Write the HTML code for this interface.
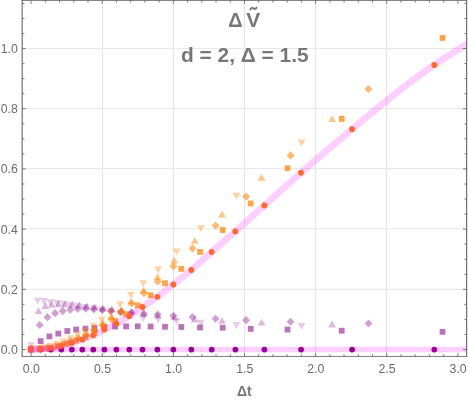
<!DOCTYPE html>
<html><head><meta charset="utf-8"><title>Plot</title>
<style>html,body{margin:0;padding:0;background:#fff;}body{width:468px;height:401px;position:relative;overflow:hidden;font-family:"Liberation Sans",sans-serif;}</style>
</head><body>
<svg width="468" height="401" viewBox="0 0 468 401" style="position:absolute;left:0;top:0">
<rect width="468" height="401" fill="#fff"/>
<defs><clipPath id="c"><rect x="22.2" y="0.45" width="444.40000000000003" height="356.0"/></clipPath></defs>
<g stroke-width="1"><line x1="102.50" y1="0.45" x2="102.50" y2="356.45" stroke="#e3e3e3"/><line x1="173.50" y1="0.45" x2="173.50" y2="356.45" stroke="#e3e3e3"/><line x1="244.50" y1="0.45" x2="244.50" y2="356.45" stroke="#e3e3e3"/><line x1="315.60" y1="0.45" x2="315.60" y2="356.45" stroke="#e3e3e3"/><line x1="386.45" y1="0.45" x2="386.45" y2="356.45" stroke="#e3e3e3"/><line x1="22.2" y1="48.45" x2="466.6" y2="48.45" stroke="#e7e7e7"/><line x1="22.2" y1="108.50" x2="466.6" y2="108.50" stroke="#e7e7e7"/><line x1="22.2" y1="168.45" x2="466.6" y2="168.45" stroke="#e7e7e7"/><line x1="22.2" y1="228.75" x2="466.6" y2="228.75" stroke="#e7e7e7"/><line x1="22.2" y1="289.35" x2="466.6" y2="289.35" stroke="#e7e7e7"/></g>
<g clip-path="url(#c)">
<g fill="#800080" fill-opacity="0.2"><path d="M31.00 349.30L34.90 342.30L27.10 342.30Z"/><path d="M37.60 304.50L41.50 297.50L33.70 297.50Z"/><path d="M44.00 305.10L47.90 298.10L40.10 298.10Z"/><path d="M50.40 306.30L54.30 299.30L46.50 299.30Z"/><path d="M56.90 307.00L60.80 300.00L53.00 300.00Z"/><path d="M63.50 307.80L67.40 300.80L59.60 300.80Z"/><path d="M70.30 308.80L74.20 301.80L66.40 301.80Z"/><path d="M77.40 309.80L81.30 302.80L73.50 302.80Z"/><path d="M85.00 311.00L88.90 304.00L81.10 304.00Z"/><path d="M93.50 312.30L97.40 305.30L89.60 305.30Z"/><path d="M101.70 313.80L105.60 306.80L97.80 306.80Z"/><path d="M110.60 315.30L114.50 308.30L106.70 308.30Z"/><path d="M120.00 317.00L123.90 310.00L116.10 310.00Z"/><path d="M130.80 318.70L134.70 311.70L126.90 311.70Z"/><path d="M143.20 322.10L147.10 315.10L139.30 315.10Z"/><path d="M158.10 323.50L162.00 316.50L154.20 316.50Z"/><path d="M176.50 324.90L180.40 317.90L172.60 317.90Z"/><path d="M200.90 326.80L204.80 319.80L197.00 319.80Z"/><path d="M236.40 329.00L240.30 322.00L232.50 322.00Z"/><path d="M301.50 330.00L305.40 323.00L297.60 323.00Z"/></g>

<g fill="#800080" fill-opacity="0.275"><path d="M31.00 345.80L34.90 352.60L27.10 352.60Z"/><path d="M38.50 307.20L42.40 314.00L34.60 314.00Z"/><path d="M45.30 302.10L49.20 308.90L41.40 308.90Z"/><path d="M51.70 301.00L55.60 307.80L47.80 307.80Z"/><path d="M58.50 300.50L62.40 307.30L54.60 307.30Z"/><path d="M65.20 300.50L69.10 307.30L61.30 307.30Z"/><path d="M72.20 301.00L76.10 307.80L68.30 307.80Z"/><path d="M79.30 301.60L83.20 308.40L75.40 308.40Z"/><path d="M86.90 302.40L90.80 309.20L83.00 309.20Z"/><path d="M94.80 303.40L98.70 310.20L90.90 310.20Z"/><path d="M103.20 304.60L107.10 311.40L99.30 311.40Z"/><path d="M112.00 305.80L115.90 312.60L108.10 312.60Z"/><path d="M121.50 307.20L125.40 314.00L117.60 314.00Z"/><path d="M131.00 308.10L134.90 314.90L127.10 314.90Z"/><path d="M143.40 309.60L147.30 316.40L139.50 316.40Z"/><path d="M157.60 311.40L161.50 318.20L153.70 318.20Z"/><path d="M174.25 313.40L178.15 320.20L170.35 320.20Z"/><path d="M194.75 315.60L198.65 322.40L190.85 322.40Z"/><path d="M222.00 316.90L225.90 323.70L218.10 323.70Z"/><path d="M261.60 318.80L265.50 325.60L257.70 325.60Z"/><path d="M332.00 320.60L335.90 327.40L328.10 327.40Z"/></g>

<g fill="#800080" fill-opacity="0.37"><path d="M31.00 345.10L35.00 349.20L31.00 353.30L27.00 349.20Z"/><path d="M39.70 320.90L43.70 325.00L39.70 329.10L35.70 325.00Z"/><path d="M47.50 313.10L51.50 317.20L47.50 321.30L43.50 317.20Z"/><path d="M55.10 309.10L59.10 313.20L55.10 317.30L51.10 313.20Z"/><path d="M62.70 307.00L66.70 311.10L62.70 315.20L58.70 311.10Z"/><path d="M70.20 305.70L74.20 309.80L70.20 313.90L66.20 309.80Z"/><path d="M77.60 304.90L81.60 309.00L77.60 313.10L73.60 309.00Z"/><path d="M85.60 304.60L89.60 308.70L85.60 312.80L81.60 308.70Z"/><path d="M93.80 305.20L97.80 309.30L93.80 313.40L89.80 309.30Z"/><path d="M102.30 305.90L106.30 310.00L102.30 314.10L98.30 310.00Z"/><path d="M111.00 306.80L115.00 310.90L111.00 315.00L107.00 310.90Z"/><path d="M121.00 307.80L125.00 311.90L121.00 316.00L117.00 311.90Z"/><path d="M131.70 308.60L135.70 312.70L131.70 316.80L127.70 312.70Z"/><path d="M144.00 309.65L148.00 313.75L144.00 317.85L140.00 313.75Z"/><path d="M157.70 310.40L161.70 314.50L157.70 318.60L153.70 314.50Z"/><path d="M173.40 311.65L177.40 315.75L173.40 319.85L169.40 315.75Z"/><path d="M192.50 312.90L196.50 317.00L192.50 321.10L188.50 317.00Z"/><path d="M215.50 314.65L219.50 318.75L215.50 322.85L211.50 318.75Z"/><path d="M246.10 316.10L250.10 320.20L246.10 324.30L242.10 320.20Z"/><path d="M290.50 317.65L294.50 321.75L290.50 325.85L286.50 321.75Z"/><path d="M368.50 319.40L372.50 323.50L368.50 327.60L364.50 323.50Z"/></g>

<g fill="#800080" fill-opacity="0.55"><rect x="28.10" y="346.30" width="5.8" height="5.8"/><rect x="37.70" y="338.20" width="5.8" height="5.8"/><rect x="46.50" y="333.50" width="5.8" height="5.8"/><rect x="55.40" y="330.70" width="5.8" height="5.8"/><rect x="64.40" y="328.10" width="5.8" height="5.8"/><rect x="73.20" y="326.60" width="5.8" height="5.8"/><rect x="82.60" y="325.70" width="5.8" height="5.8"/><rect x="91.50" y="325.10" width="5.8" height="5.8"/><rect x="101.30" y="324.00" width="5.8" height="5.8"/><rect x="112.20" y="323.60" width="5.8" height="5.8"/><rect x="123.20" y="323.50" width="5.8" height="5.8"/><rect x="134.80" y="323.40" width="5.8" height="5.8"/><rect x="147.70" y="323.60" width="5.8" height="5.8"/><rect x="162.10" y="323.85" width="5.8" height="5.8"/><rect x="178.40" y="324.10" width="5.8" height="5.8"/><rect x="197.10" y="324.60" width="5.8" height="5.8"/><rect x="219.80" y="324.85" width="5.8" height="5.8"/><rect x="247.80" y="326.00" width="5.8" height="5.8"/><rect x="284.60" y="326.70" width="5.8" height="5.8"/><rect x="338.80" y="327.80" width="5.8" height="5.8"/><rect x="439.60" y="328.90" width="5.8" height="5.8"/></g>

<g fill="#800080" fill-opacity="1"><circle cx="31.00" cy="349.60" r="2.9"/><circle cx="40.60" cy="349.60" r="2.9"/><circle cx="50.85" cy="349.60" r="2.9"/><circle cx="61.35" cy="349.60" r="2.9"/><circle cx="71.85" cy="349.60" r="2.9"/><circle cx="82.35" cy="349.60" r="2.9"/><circle cx="93.30" cy="349.60" r="2.9"/><circle cx="104.40" cy="349.60" r="2.9"/><circle cx="116.40" cy="349.60" r="2.9"/><circle cx="129.30" cy="349.60" r="2.9"/><circle cx="142.50" cy="349.60" r="2.9"/><circle cx="157.40" cy="349.60" r="2.9"/><circle cx="173.40" cy="349.60" r="2.9"/><circle cx="191.35" cy="349.60" r="2.9"/><circle cx="211.70" cy="349.60" r="2.9"/><circle cx="235.40" cy="349.60" r="2.9"/><circle cx="264.40" cy="349.60" r="2.9"/><circle cx="301.10" cy="349.60" r="2.9"/><circle cx="352.10" cy="349.60" r="2.9"/><circle cx="434.30" cy="349.60" r="2.9"/></g>

<g fill="#FF8000" fill-opacity="0.35"><path d="M31.00 352.70L34.90 345.70L27.10 345.70Z"/><path d="M37.60 352.15L41.50 345.15L33.70 345.15Z"/><path d="M44.00 351.15L47.90 344.15L40.10 344.15Z"/><path d="M50.40 349.75L54.30 342.75L46.50 342.75Z"/><path d="M56.90 347.77L60.80 340.77L53.00 340.77Z"/><path d="M63.50 345.22L67.40 338.22L59.60 338.22Z"/><path d="M70.30 342.14L74.20 335.14L66.40 335.14Z"/><path d="M77.40 338.67L81.30 331.67L73.50 331.67Z"/><path d="M85.00 334.74L88.90 327.74L81.10 327.74Z"/><path d="M93.50 329.86L97.40 322.86L89.60 322.86Z"/><path d="M101.70 323.75L105.60 316.75L97.80 316.75Z"/><path d="M110.60 316.76L114.50 309.76L106.70 309.76Z"/><path d="M120.00 308.24L123.90 301.24L116.10 301.24Z"/><path d="M130.80 298.63L134.70 291.63L126.90 291.63Z"/><path d="M143.20 287.30L147.10 280.30L139.30 280.30Z"/><path d="M158.10 273.32L162.00 266.32L154.20 266.32Z"/><path d="M176.50 255.57L180.40 248.57L172.60 248.57Z"/><path d="M200.90 232.22L204.80 225.22L197.00 225.22Z"/><path d="M236.40 199.64L240.30 192.64L232.50 192.64Z"/><path d="M301.50 146.61L305.40 139.61L297.60 139.61Z"/></g>

<g fill="#FF8000" fill-opacity="0.45"><path d="M31.00 345.80L34.90 352.60L27.10 352.60Z"/><path d="M38.50 345.51L42.40 352.31L34.60 352.31Z"/><path d="M45.30 344.93L49.20 351.73L41.40 351.73Z"/><path d="M51.70 343.86L55.60 350.66L47.80 350.66Z"/><path d="M58.50 342.24L62.40 349.04L54.60 349.04Z"/><path d="M65.20 340.05L69.10 346.85L61.30 346.85Z"/><path d="M72.20 337.26L76.10 344.06L68.30 344.06Z"/><path d="M79.30 334.17L83.20 340.97L75.40 340.97Z"/><path d="M86.90 330.44L90.80 337.24L83.00 337.24Z"/><path d="M94.80 325.73L98.70 332.53L90.90 332.53Z"/><path d="M103.20 319.77L107.10 326.57L99.30 326.57Z"/><path d="M112.00 313.53L115.90 320.33L108.10 320.33Z"/><path d="M121.50 306.30L125.40 313.10L117.60 313.10Z"/><path d="M131.00 297.70L134.90 304.50L127.10 304.50Z"/><path d="M143.40 286.81L147.30 293.61L139.50 293.61Z"/><path d="M157.60 273.08L161.50 279.88L153.70 279.88Z"/><path d="M174.25 256.65L178.15 263.45L170.35 263.45Z"/><path d="M194.75 236.89L198.65 243.69L190.85 243.69Z"/><path d="M222.00 210.81L225.90 217.61L218.10 217.61Z"/><path d="M261.60 173.84L265.50 180.64L257.70 180.64Z"/><path d="M332.00 115.19L335.90 121.99L328.10 121.99Z"/></g>

<g fill="#FF8000" fill-opacity="0.55"><path d="M31.00 345.10L35.00 349.20L31.00 353.30L27.00 349.20Z"/><path d="M39.70 344.75L43.70 348.85L39.70 352.95L35.70 348.85Z"/><path d="M47.50 343.91L51.50 348.01L47.50 352.11L43.50 348.01Z"/><path d="M55.10 342.41L59.10 346.51L55.10 350.61L51.10 346.51Z"/><path d="M62.70 340.23L66.70 344.33L62.70 348.43L58.70 344.33Z"/><path d="M70.20 337.37L74.20 341.47L70.20 345.57L66.20 341.47Z"/><path d="M77.60 334.31L81.60 338.41L77.60 342.51L73.60 338.41Z"/><path d="M85.60 330.73L89.60 334.83L85.60 338.93L81.60 334.83Z"/><path d="M93.80 326.02L97.80 330.12L93.80 334.22L89.80 330.12Z"/><path d="M102.30 320.84L106.30 324.94L102.30 329.04L98.30 324.94Z"/><path d="M111.00 314.77L115.00 318.87L111.00 322.97L107.00 318.87Z"/><path d="M121.00 307.48L125.00 311.58L121.00 315.68L117.00 311.58Z"/><path d="M131.70 299.42L135.70 303.52L131.70 307.62L127.70 303.52Z"/><path d="M144.00 288.95L148.00 293.05L144.00 297.15L140.00 293.05Z"/><path d="M157.70 277.41L161.70 281.51L157.70 285.61L153.70 281.51Z"/><path d="M173.40 262.07L177.40 266.17L173.40 270.27L169.40 266.17Z"/><path d="M192.50 244.24L196.50 248.34L192.50 252.44L188.50 248.34Z"/><path d="M215.50 221.47L219.50 225.57L215.50 229.67L211.50 225.57Z"/><path d="M246.10 192.46L250.10 196.56L246.10 200.66L242.10 196.56Z"/><path d="M290.50 151.31L294.50 155.41L290.50 159.51L286.50 155.41Z"/><path d="M368.50 84.89L372.50 88.99L368.50 93.09L364.50 88.99Z"/></g>

<g fill="#FF8000" fill-opacity="0.7"><rect x="28.10" y="346.30" width="5.8" height="5.8"/><rect x="37.70" y="345.89" width="5.8" height="5.8"/><rect x="46.50" y="344.98" width="5.8" height="5.8"/><rect x="55.40" y="343.28" width="5.8" height="5.8"/><rect x="64.40" y="340.64" width="5.8" height="5.8"/><rect x="73.20" y="337.67" width="5.8" height="5.8"/><rect x="82.60" y="334.16" width="5.8" height="5.8"/><rect x="91.50" y="329.93" width="5.8" height="5.8"/><rect x="101.30" y="324.25" width="5.8" height="5.8"/><rect x="112.20" y="318.21" width="5.8" height="5.8"/><rect x="123.20" y="311.28" width="5.8" height="5.8"/><rect x="134.80" y="302.41" width="5.8" height="5.8"/><rect x="147.70" y="292.34" width="5.8" height="5.8"/><rect x="162.10" y="280.28" width="5.8" height="5.8"/><rect x="178.40" y="265.96" width="5.8" height="5.8"/><rect x="197.10" y="248.97" width="5.8" height="5.8"/><rect x="219.80" y="227.11" width="5.8" height="5.8"/><rect x="247.80" y="200.55" width="5.8" height="5.8"/><rect x="284.60" y="165.28" width="5.8" height="5.8"/><rect x="338.80" y="116.00" width="5.8" height="5.8"/><rect x="439.60" y="35.06" width="5.8" height="5.8"/></g>

<g fill="#FF8000" fill-opacity="1"><circle cx="30.90" cy="349.20" r="2.9"/><circle cx="40.50" cy="348.90" r="2.9"/><circle cx="50.75" cy="347.90" r="2.9"/><circle cx="61.25" cy="345.90" r="2.9"/><circle cx="71.75" cy="342.90" r="2.9"/><circle cx="82.25" cy="339.60" r="2.9"/><circle cx="93.20" cy="335.30" r="2.9"/><circle cx="104.30" cy="329.60" r="2.9"/><circle cx="116.30" cy="323.70" r="2.9"/><circle cx="129.20" cy="316.20" r="2.9"/><circle cx="142.40" cy="307.00" r="2.9"/><circle cx="157.30" cy="296.80" r="2.9"/><circle cx="173.30" cy="284.50" r="2.9"/><circle cx="191.25" cy="270.00" r="2.9"/><circle cx="211.60" cy="252.00" r="2.9"/><circle cx="235.30" cy="231.40" r="2.9"/><circle cx="264.30" cy="205.50" r="2.9"/><circle cx="301.00" cy="172.75" r="2.9"/><circle cx="352.00" cy="129.25" r="2.9"/><circle cx="434.20" cy="65.00" r="2.9"/></g>

</g>
<g clip-path="url(#c)" fill="none" stroke="#FF00FF" stroke-opacity="0.19" stroke-linecap="square">
<line x1="31.0" y1="349.55" x2="470" y2="349.55" stroke-width="5.6"/>
<path d="M31.00 349.20L32.50 349.19L34.00 349.17L35.50 349.13L37.00 349.08L38.50 349.01L40.00 348.93L41.50 348.84L43.00 348.73L44.50 348.60L46.00 348.46L47.50 348.31L49.00 348.13L50.50 347.93L52.00 347.72L53.50 347.48L55.00 347.23L56.50 346.95L58.00 346.64L59.50 346.31L61.00 345.96L62.50 345.58L64.00 345.18L65.50 344.76L67.00 344.33L68.50 343.88L70.00 343.43L71.50 342.98L73.00 342.52L74.50 342.06L76.00 341.60L77.50 341.14L79.00 340.66L80.50 340.18L82.00 339.68L83.50 339.17L85.00 338.64L86.50 338.10L88.00 337.52L89.50 336.92L91.00 336.29L92.50 335.62L94.00 334.92L95.50 334.18L97.00 333.42L98.50 332.64L100.00 331.85L101.50 331.06L103.00 330.27L104.50 329.50L106.00 328.75L107.50 328.01L109.00 327.28L110.50 326.56L112.00 325.83L113.50 325.10L115.00 324.36L116.50 323.60L118.00 322.82L119.50 322.01L121.00 321.18L122.50 320.33L124.00 319.45L125.50 318.55L127.00 317.61L128.50 316.66L130.00 315.67L131.50 314.66L133.00 313.63L134.50 312.58L136.00 311.52L137.50 310.46L139.00 309.39L140.50 308.33L142.00 307.28L143.50 306.24L145.00 305.22L146.50 304.20L148.00 303.19L149.50 302.18L151.00 301.17L152.50 300.15L154.00 299.12L155.50 298.08L157.00 297.01L158.50 295.93L160.00 294.83L161.50 293.71L163.00 292.57L164.50 291.42L166.00 290.25L167.50 289.08L169.00 287.90L170.50 286.72L172.00 285.53L173.50 284.34L175.00 283.16L176.50 281.97L178.00 280.78L179.50 279.59L181.00 278.40L182.50 277.20L184.00 275.99L185.50 274.77L187.00 273.54L188.50 272.31L190.00 271.05L191.50 269.79L193.00 268.51L194.50 267.21L196.00 265.90L197.50 264.58L199.00 263.26L200.50 261.92L202.00 260.58L203.50 259.24L205.00 257.90L206.50 256.55L208.00 255.21L209.50 253.87L211.00 252.53L212.50 251.20L214.00 249.88L215.50 248.57L217.00 247.25L218.50 245.95L220.00 244.65L221.50 243.35L223.00 242.05L224.50 240.75L226.00 239.46L227.50 238.16L229.00 236.87L230.50 235.57L232.00 234.27L233.50 232.97L235.00 231.66L236.50 230.35L238.00 229.03L239.50 227.71L241.00 226.39L242.50 225.06L244.00 223.73L245.50 222.40L247.00 221.06L248.50 219.72L250.00 218.37L251.50 217.03L253.00 215.68L254.50 214.33L256.00 212.98L257.50 211.63L259.00 210.28L260.50 208.93L262.00 207.57L263.50 206.22L265.00 204.87L266.50 203.52L268.00 202.16L269.50 200.81L271.00 199.46L272.50 198.11L274.00 196.76L275.50 195.42L277.00 194.07L278.50 192.72L280.00 191.38L281.50 190.04L283.00 188.69L284.50 187.35L286.00 186.02L287.50 184.68L289.00 183.35L290.50 182.01L292.00 180.68L293.50 179.35L295.00 178.03L296.50 176.71L298.00 175.38L299.50 174.07L301.00 172.75L302.50 171.44L304.00 170.13L305.50 168.82L307.00 167.51L308.50 166.21L310.00 164.91L311.50 163.61L313.00 162.32L314.50 161.03L316.00 159.73L317.50 158.45L319.00 157.16L320.50 155.87L322.00 154.59L323.50 153.31L325.00 152.03L326.50 150.75L328.00 149.48L329.50 148.21L331.00 146.93L332.50 145.66L334.00 144.39L335.50 143.12L337.00 141.86L338.50 140.59L340.00 139.33L341.50 138.07L343.00 136.80L344.50 135.54L346.00 134.28L347.50 133.02L349.00 131.76L350.50 130.51L352.00 129.25L353.50 127.99L355.00 126.74L356.50 125.48L358.00 124.23L359.50 122.98L361.00 121.73L362.50 120.48L364.00 119.23L365.50 117.98L367.00 116.74L368.50 115.49L370.00 114.25L371.50 113.01L373.00 111.78L374.50 110.54L376.00 109.31L377.50 108.09L379.00 106.86L380.50 105.64L382.00 104.42L383.50 103.20L385.00 101.99L386.50 100.78L388.00 99.58L389.50 98.38L391.00 97.18L392.50 95.99L394.00 94.80L395.50 93.61L397.00 92.43L398.50 91.26L400.00 90.09L401.50 88.92L403.00 87.76L404.50 86.60L406.00 85.45L407.50 84.31L409.00 83.17L410.50 82.04L412.00 80.91L413.50 79.79L415.00 78.67L416.50 77.56L418.00 76.46L419.50 75.37L421.00 74.28L422.50 73.19L424.00 72.12L425.50 71.05L427.00 69.99L428.50 68.94L430.00 67.89L431.50 66.85L433.00 65.82L434.50 64.80L436.00 63.78L437.50 62.77L439.00 61.77L440.50 60.78L442.00 59.79L443.50 58.81L445.00 57.84L446.50 56.87L448.00 55.90L449.50 54.94L451.00 53.99L452.50 53.04L454.00 52.09L455.50 51.14L457.00 50.20L458.50 49.26L460.00 48.33L461.50 47.39L463.00 46.46L464.50 45.53L466.00 44.60L467.50 43.67L469.00 42.74L470.50 41.81L472.00 40.88L473.50 39.95L475.00 39.02" stroke-width="6.8" stroke-linejoin="round"/>
</g>
<g stroke="#6c6c6c"><line x1="22.2" y1="0" x2="22.2" y2="356.9" stroke-width="1.15"/><line x1="466.6" y1="0" x2="466.6" y2="356.9" stroke-width="1.15"/><line x1="21.65" y1="0.45" x2="467.15000000000003" y2="0.45" stroke-width="0.9"/><line x1="21.65" y1="356.45" x2="467.15000000000003" y2="356.45" stroke-width="0.9"/></g><g stroke="#545454" stroke-width="0.75"><line x1="31.10" y1="356.45" x2="31.10" y2="352.95"/><line x1="31.10" y1="0.45" x2="31.10" y2="3.95"/><line x1="45.33" y1="356.45" x2="45.33" y2="354.25"/><line x1="45.33" y1="0.45" x2="45.33" y2="2.6500000000000004"/><line x1="59.55" y1="356.45" x2="59.55" y2="354.25"/><line x1="59.55" y1="0.45" x2="59.55" y2="2.6500000000000004"/><line x1="73.78" y1="356.45" x2="73.78" y2="354.25"/><line x1="73.78" y1="0.45" x2="73.78" y2="2.6500000000000004"/><line x1="88.00" y1="356.45" x2="88.00" y2="354.25"/><line x1="88.00" y1="0.45" x2="88.00" y2="2.6500000000000004"/><line x1="102.22" y1="356.45" x2="102.22" y2="352.95"/><line x1="102.22" y1="0.45" x2="102.22" y2="3.95"/><line x1="116.45" y1="356.45" x2="116.45" y2="354.25"/><line x1="116.45" y1="0.45" x2="116.45" y2="2.6500000000000004"/><line x1="130.68" y1="356.45" x2="130.68" y2="354.25"/><line x1="130.68" y1="0.45" x2="130.68" y2="2.6500000000000004"/><line x1="144.90" y1="356.45" x2="144.90" y2="354.25"/><line x1="144.90" y1="0.45" x2="144.90" y2="2.6500000000000004"/><line x1="159.12" y1="356.45" x2="159.12" y2="354.25"/><line x1="159.12" y1="0.45" x2="159.12" y2="2.6500000000000004"/><line x1="173.35" y1="356.45" x2="173.35" y2="352.95"/><line x1="173.35" y1="0.45" x2="173.35" y2="3.95"/><line x1="187.58" y1="356.45" x2="187.58" y2="354.25"/><line x1="187.58" y1="0.45" x2="187.58" y2="2.6500000000000004"/><line x1="201.80" y1="356.45" x2="201.80" y2="354.25"/><line x1="201.80" y1="0.45" x2="201.80" y2="2.6500000000000004"/><line x1="216.03" y1="356.45" x2="216.03" y2="354.25"/><line x1="216.03" y1="0.45" x2="216.03" y2="2.6500000000000004"/><line x1="230.25" y1="356.45" x2="230.25" y2="354.25"/><line x1="230.25" y1="0.45" x2="230.25" y2="2.6500000000000004"/><line x1="244.47" y1="356.45" x2="244.47" y2="352.95"/><line x1="244.47" y1="0.45" x2="244.47" y2="3.95"/><line x1="258.70" y1="356.45" x2="258.70" y2="354.25"/><line x1="258.70" y1="0.45" x2="258.70" y2="2.6500000000000004"/><line x1="272.93" y1="356.45" x2="272.93" y2="354.25"/><line x1="272.93" y1="0.45" x2="272.93" y2="2.6500000000000004"/><line x1="287.15" y1="356.45" x2="287.15" y2="354.25"/><line x1="287.15" y1="0.45" x2="287.15" y2="2.6500000000000004"/><line x1="301.38" y1="356.45" x2="301.38" y2="354.25"/><line x1="301.38" y1="0.45" x2="301.38" y2="2.6500000000000004"/><line x1="315.60" y1="356.45" x2="315.60" y2="352.95"/><line x1="315.60" y1="0.45" x2="315.60" y2="3.95"/><line x1="329.83" y1="356.45" x2="329.83" y2="354.25"/><line x1="329.83" y1="0.45" x2="329.83" y2="2.6500000000000004"/><line x1="344.05" y1="356.45" x2="344.05" y2="354.25"/><line x1="344.05" y1="0.45" x2="344.05" y2="2.6500000000000004"/><line x1="358.28" y1="356.45" x2="358.28" y2="354.25"/><line x1="358.28" y1="0.45" x2="358.28" y2="2.6500000000000004"/><line x1="372.50" y1="356.45" x2="372.50" y2="354.25"/><line x1="372.50" y1="0.45" x2="372.50" y2="2.6500000000000004"/><line x1="386.73" y1="356.45" x2="386.73" y2="352.95"/><line x1="386.73" y1="0.45" x2="386.73" y2="3.95"/><line x1="400.95" y1="356.45" x2="400.95" y2="354.25"/><line x1="400.95" y1="0.45" x2="400.95" y2="2.6500000000000004"/><line x1="415.18" y1="356.45" x2="415.18" y2="354.25"/><line x1="415.18" y1="0.45" x2="415.18" y2="2.6500000000000004"/><line x1="429.40" y1="356.45" x2="429.40" y2="354.25"/><line x1="429.40" y1="0.45" x2="429.40" y2="2.6500000000000004"/><line x1="443.63" y1="356.45" x2="443.63" y2="354.25"/><line x1="443.63" y1="0.45" x2="443.63" y2="2.6500000000000004"/><line x1="457.85" y1="356.45" x2="457.85" y2="352.95"/><line x1="457.85" y1="0.45" x2="457.85" y2="3.95"/><line x1="22.2" y1="349.50" x2="25.8" y2="349.50"/><line x1="466.6" y1="349.50" x2="463.0" y2="349.50"/><line x1="22.2" y1="334.45" x2="24.4" y2="334.45"/><line x1="466.6" y1="334.45" x2="464.40000000000003" y2="334.45"/><line x1="22.2" y1="319.41" x2="24.4" y2="319.41"/><line x1="466.6" y1="319.41" x2="464.40000000000003" y2="319.41"/><line x1="22.2" y1="304.37" x2="24.4" y2="304.37"/><line x1="466.6" y1="304.37" x2="464.40000000000003" y2="304.37"/><line x1="22.2" y1="289.32" x2="25.8" y2="289.32"/><line x1="466.6" y1="289.32" x2="463.0" y2="289.32"/><line x1="22.2" y1="274.27" x2="24.4" y2="274.27"/><line x1="466.6" y1="274.27" x2="464.40000000000003" y2="274.27"/><line x1="22.2" y1="259.23" x2="24.4" y2="259.23"/><line x1="466.6" y1="259.23" x2="464.40000000000003" y2="259.23"/><line x1="22.2" y1="244.19" x2="24.4" y2="244.19"/><line x1="466.6" y1="244.19" x2="464.40000000000003" y2="244.19"/><line x1="22.2" y1="229.14" x2="25.8" y2="229.14"/><line x1="466.6" y1="229.14" x2="463.0" y2="229.14"/><line x1="22.2" y1="214.09" x2="24.4" y2="214.09"/><line x1="466.6" y1="214.09" x2="464.40000000000003" y2="214.09"/><line x1="22.2" y1="199.05" x2="24.4" y2="199.05"/><line x1="466.6" y1="199.05" x2="464.40000000000003" y2="199.05"/><line x1="22.2" y1="184.00" x2="24.4" y2="184.00"/><line x1="466.6" y1="184.00" x2="464.40000000000003" y2="184.00"/><line x1="22.2" y1="168.96" x2="25.8" y2="168.96"/><line x1="466.6" y1="168.96" x2="463.0" y2="168.96"/><line x1="22.2" y1="153.92" x2="24.4" y2="153.92"/><line x1="466.6" y1="153.92" x2="464.40000000000003" y2="153.92"/><line x1="22.2" y1="138.87" x2="24.4" y2="138.87"/><line x1="466.6" y1="138.87" x2="464.40000000000003" y2="138.87"/><line x1="22.2" y1="123.83" x2="24.4" y2="123.83"/><line x1="466.6" y1="123.83" x2="464.40000000000003" y2="123.83"/><line x1="22.2" y1="108.78" x2="25.8" y2="108.78"/><line x1="466.6" y1="108.78" x2="463.0" y2="108.78"/><line x1="22.2" y1="93.73" x2="24.4" y2="93.73"/><line x1="466.6" y1="93.73" x2="464.40000000000003" y2="93.73"/><line x1="22.2" y1="78.69" x2="24.4" y2="78.69"/><line x1="466.6" y1="78.69" x2="464.40000000000003" y2="78.69"/><line x1="22.2" y1="63.64" x2="24.4" y2="63.64"/><line x1="466.6" y1="63.64" x2="464.40000000000003" y2="63.64"/><line x1="22.2" y1="48.60" x2="25.8" y2="48.60"/><line x1="466.6" y1="48.60" x2="463.0" y2="48.60"/><line x1="22.2" y1="33.56" x2="24.4" y2="33.56"/><line x1="466.6" y1="33.56" x2="464.40000000000003" y2="33.56"/><line x1="22.2" y1="18.51" x2="24.4" y2="18.51"/><line x1="466.6" y1="18.51" x2="464.40000000000003" y2="18.51"/><line x1="22.2" y1="3.46" x2="24.4" y2="3.46"/><line x1="466.6" y1="3.46" x2="464.40000000000003" y2="3.46"/></g>
<g font-family="Liberation Sans, sans-serif" font-size="12.3" fill="#6a6a6a" style="opacity:0.999;will-change:opacity"><text x="31.40" y="373.1" text-anchor="middle">0.0</text><text x="102.52" y="373.1" text-anchor="middle">0.5</text><text x="173.65" y="373.1" text-anchor="middle">1.0</text><text x="244.78" y="373.1" text-anchor="middle">1.5</text><text x="315.90" y="373.1" text-anchor="middle">2.0</text><text x="387.03" y="373.1" text-anchor="middle">2.5</text><text x="458.15" y="373.1" text-anchor="middle">3.0</text><text x="17.8" y="353.90" text-anchor="end">0.0</text><text x="17.8" y="293.72" text-anchor="end">0.2</text><text x="17.8" y="233.54" text-anchor="end">0.4</text><text x="17.8" y="173.36" text-anchor="end">0.6</text><text x="17.8" y="113.18" text-anchor="end">0.8</text><text x="17.8" y="53.00" text-anchor="end">1.0</text></g>
<g font-family="Liberation Sans, sans-serif" font-weight="bold" fill="#777" style="opacity:0.999;will-change:opacity">
<text x="244.3" y="395.8" font-size="14" text-anchor="middle">Δt</text>
<text x="181.0" y="61.6" font-size="20" textLength="127.6" lengthAdjust="spacingAndGlyphs">d = 2, Δ = 1.5</text>
<text x="228.3" y="26.8" font-size="20" textLength="14.2" lengthAdjust="spacingAndGlyphs">Δ</text>
<text x="246.3" y="26.8" font-size="20" textLength="14.0" lengthAdjust="spacingAndGlyphs">V</text>
<path d="M250.4 9.5C251.0 7.6 252.5 7.5 253.4 8.4S255.6 9.4 256.4 7.7" fill="none" stroke="#777" stroke-width="2.0" stroke-linecap="round"/>
</g>
</svg>
</body></html>
